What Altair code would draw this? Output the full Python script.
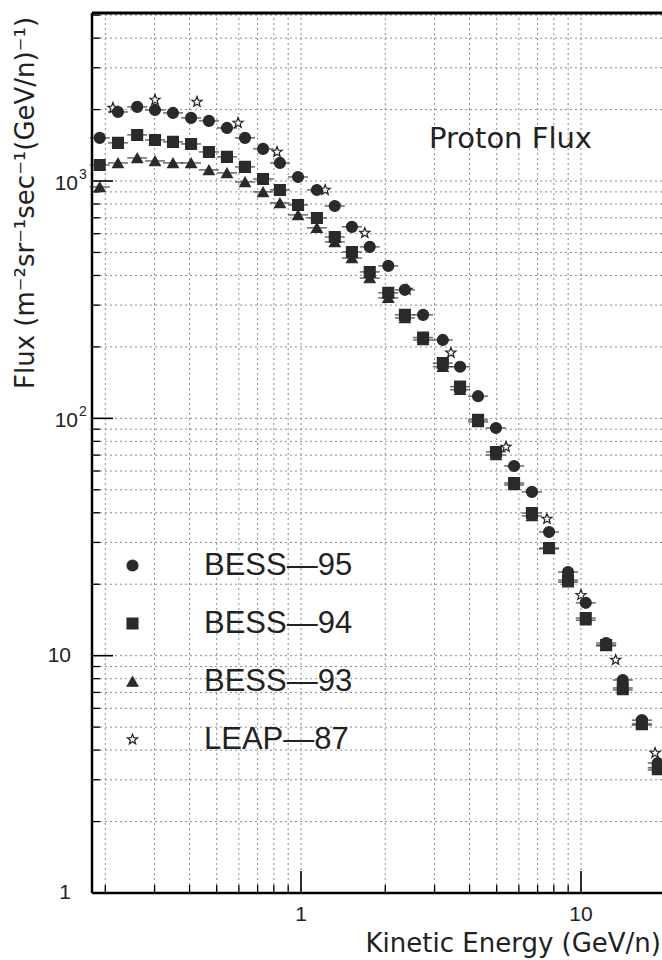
import altair as alt
import pandas as pd

# ---------------- data ----------------
series_names = ["BESS-95", "BESS-94", "BESS-93", "LEAP-87"]

energy_bess = [0.191, 0.222, 0.260, 0.301, 0.349, 0.405, 0.469, 0.544, 0.631, 0.732,
               0.841, 0.976, 1.14, 1.32, 1.52, 1.76, 2.05, 2.35, 2.73, 3.21,
               3.70, 4.29, 4.97, 5.77, 6.68, 7.69, 8.99, 10.4, 12.3, 14.1, 16.5, 18.8]
flux_bess95 = [1520, 1954, 2053, 1993, 1936, 1845, 1792, 1674, 1520, 1366,
               1192, 1040, 917, 785, 641, 528, 439, 348, 273, 214,
               165, 124, 91.1, 63.0, 49.0, 33.2, 22.5, 16.7, 11.3, 7.90, 5.35, 3.53]
flux_bess94 = [1169, 1448, 1564, 1490, 1462, 1433, 1326, 1264, 1147, 1020,
               917, 793, 699, 581, 502, 414, 338, 273, 219, 171,
               136, 98.5, 72.2, 53.4, 39.9, 28.4, 20.8, 14.4, 11.1, 7.31, 5.16, 3.37]
flux_bess93 = [944, 1192, 1251, 1215, 1192, 1192, 1114, 1082, 991, 900,
               809, 720, 635, 554, 474, 390, 322, 265, 214, 165,
               132, 96.6, 70.1, 52.4, 38.8, 28.2, 20.4, 14.1, 11.0, 7.17, 5.10, 3.30]
energy_leap = [0.213, 0.301, 0.425, 0.596, 0.821, 1.22, 1.69, 2.39, 3.43, 5.40,
               7.56, 10.0, 13.3, 18.4]
flux_leap = [2033, 2198, 2155, 1757, 1326, 917, 604, 348, 189, 75.8,
             37.7, 18.0, 9.59, 3.89]

x_grid_minor = [0.2, 0.3, 0.4, 0.5, 0.6, 0.7, 0.8, 0.9, 2, 3, 4, 5, 6, 7, 8, 9]
x_grid_major = [1, 10]
y_grid_minor = [2, 3, 4, 5, 6, 7, 8, 9, 20, 30, 40, 50, 60, 70, 80, 90,
                200, 300, 400, 500, 600, 700, 800, 900, 2000, 3000, 4000, 5000]
y_grid_major = [10, 100, 1000]
x_label_values = [1, 10]
x_label_text = ["1", "10"]
y_label_plain_values = [1, 10]
y_label_plain_text = ["1", "10"]
y_label_exp_values = [100, 1000]
y_label_exp_base = ["10", "10"]
y_label_exp_power = ["2", "3"]

title_text = "Proton Flux"
x_title = "Kinetic Energy (GeV/n)"
y_title = "Flux (m\u207b\u00b2sr\u207b\u00b9sec\u207b\u00b9(GeV/n)\u207b\u00b9)"

# ---------------- tables ----------------
rows = []
for e, f in zip(energy_leap, flux_leap):
    rows.append({"E": e, "F": f, "series": "LEAP-87"})
for name, vals in [("BESS-93", flux_bess93), ("BESS-94", flux_bess94), ("BESS-95", flux_bess95)]:
    for e, f in zip(energy_bess, vals):
        rows.append({"E": e, "F": f, "series": name})
df = pd.DataFrame(rows)

W, H = 570, 880
xscale = alt.Scale(type="log", domain=[0.1793, 19.47], nice=False)
yscale = alt.Scale(type="log", domain=[1, 5105], nice=False)

X = lambda f: alt.X(f, scale=xscale, axis=None)
Y = lambda f: alt.Y(f, scale=yscale, axis=None)

STAR = ("M0,-1 L0.247,-0.34 L0.951,-0.309 L0.399,0.13 L0.588,0.809 L0,0.42 "
        "L-0.588,0.809 L-0.399,0.13 L-0.951,-0.309 L-0.247,-0.34 Z")
DARK = "#2a2a2a"
GRID = "#8a8a8a"

# dotted grid
x_grid = alt.Chart(pd.DataFrame({"E": x_grid_minor + x_grid_major})).mark_rule(
    color=GRID, strokeWidth=1, strokeDash=[2, 3]).encode(x=X("E:Q"))
y_grid = alt.Chart(pd.DataFrame({"F": y_grid_minor + y_grid_major})).mark_rule(
    color=GRID, strokeWidth=1, strokeDash=[2, 3]).encode(y=Y("F:Q"))

# frame (left, bottom, top)
one = pd.DataFrame({"a": [0]})
left_border = alt.Chart(one).mark_rule(color="black", strokeWidth=2.5).encode(
    x=alt.value(0), y=alt.value(0), y2=alt.value(H))
bottom_border = alt.Chart(one).mark_rule(color="black", strokeWidth=2.5).encode(
    x=alt.value(0), x2=alt.value(W), y=alt.value(H))
top_border = alt.Chart(one).mark_rule(color="black", strokeWidth=3).encode(
    x=alt.value(0), x2=alt.value(W), y=alt.value(0))

# inner tick marks
xt_minor = alt.Chart(pd.DataFrame({"E": x_grid_minor})).mark_rule(color="black", strokeWidth=1.3).encode(
    x=X("E:Q"), y=alt.value(H), y2=alt.value(H - 8))
xt_major = alt.Chart(pd.DataFrame({"E": x_grid_major})).mark_rule(color="black", strokeWidth=1.6).encode(
    x=X("E:Q"), y=alt.value(H), y2=alt.value(H - 22))
yt_minor = alt.Chart(pd.DataFrame({"F": y_grid_minor})).mark_rule(color="black", strokeWidth=1.3).encode(
    y=Y("F:Q"), x=alt.value(0), x2=alt.value(8))
yt_major = alt.Chart(pd.DataFrame({"F": y_grid_major})).mark_rule(color="black", strokeWidth=1.6).encode(
    y=Y("F:Q"), x=alt.value(0), x2=alt.value(21))

# bin-width bars for BESS points
bars = alt.Chart(df).transform_filter(alt.datum.series != "LEAP-87").mark_tick(
    orient="horizontal", size=20, thickness=1.5, color=DARK).encode(
    x=X("E:Q"), y=Y("F:Q"))

points = alt.Chart(df).mark_point(filled=True, strokeWidth=1.2, opacity=1).encode(
    x=X("E:Q"),
    y=Y("F:Q"),
    shape=alt.Shape("series:N", scale=alt.Scale(domain=series_names,
                    range=["circle", "square", "triangle-up", STAR]),
                    legend=alt.Legend(title=None, orient="none", legendX=25, legendY=537,
                                      labelFontSize=31, labelFont="Liberation Sans",
                                      labelColor="#222", rowPadding=26, labelOffset=56,
                                      labelExpr="replace(datum.label, '-', '\u2014')",
                                      symbolStrokeWidth=1.2, padding=0)),
    fill=alt.Fill("series:N", scale=alt.Scale(domain=series_names,
                  range=[DARK, DARK, DARK, "white"])),
    stroke=alt.Stroke("series:N", scale=alt.Scale(domain=series_names,
                      range=[DARK, DARK, DARK, "#222"])),
    size=alt.Size("series:N", scale=alt.Scale(domain=series_names, range=[120, 115, 130, 560])),
)

title_layer = alt.Chart(pd.DataFrame({"t": [title_text]})).mark_text(
    align="left", baseline="alphabetic", font="DejaVu Sans", fontSize=29, color="#222").encode(
    x=alt.value(337), y=alt.value(135), text="t:N")

xtitle_layer = alt.Chart(pd.DataFrame({"t": [x_title]})).mark_text(
    align="right", baseline="alphabetic", font="DejaVu Sans", fontSize=26, color="#222").encode(
    x=alt.value(W - 1), y=alt.value(939), text="t:N")

ytitle_layer = alt.Chart(pd.DataFrame({"t": [y_title]})).mark_text(
    align="center", baseline="middle", font="DejaVu Sans", fontSize=26, color="#222", angle=270).encode(
    x=alt.value(-66), y=alt.value(190), text="t:N")

xlab = alt.Chart(pd.DataFrame({"v": x_label_values, "t": x_label_text})).mark_text(
    align="center", baseline="middle", font="Liberation Sans", fontSize=21, color="#222").encode(
    x=X("v:Q"), y=alt.value(H + 22), text="t:N")
ylab_plain = alt.Chart(pd.DataFrame({"v": y_label_plain_values, "t": y_label_plain_text})).mark_text(
    align="right", baseline="middle", font="Liberation Sans", fontSize=21, color="#222").encode(
    x=alt.value(-21), y=Y("v:Q"), text="t:N")
ylab_base = alt.Chart(pd.DataFrame({"v": y_label_exp_values, "t": y_label_exp_base})).mark_text(
    align="right", baseline="middle", font="Liberation Sans", fontSize=21, color="#222", dy=3).encode(
    x=alt.value(-14), y=Y("v:Q"), text="t:N")
ylab_pow = alt.Chart(pd.DataFrame({"v": y_label_exp_values, "t": y_label_exp_power})).mark_text(
    align="left", baseline="middle", font="Liberation Sans", fontSize=14, color="#222", dy=-6).encode(
    x=alt.value(-13), y=Y("v:Q"), text="t:N")

chart = alt.layer(
    x_grid, y_grid, left_border, bottom_border, top_border,
    xt_minor, xt_major, yt_minor, yt_major, bars, points,
    title_layer, xtitle_layer, ytitle_layer, xlab, ylab_plain, ylab_base, ylab_pow,
).properties(
    width=W, height=H,
    autosize=alt.AutoSizeParams(type="none"),
    padding={"left": 92, "top": 13, "right": 0, "bottom": 67},
).configure_view(
    stroke="transparent", strokeWidth=0
)

chart.save("out.html", embed_options={"renderer": "svg", "actions": False})
